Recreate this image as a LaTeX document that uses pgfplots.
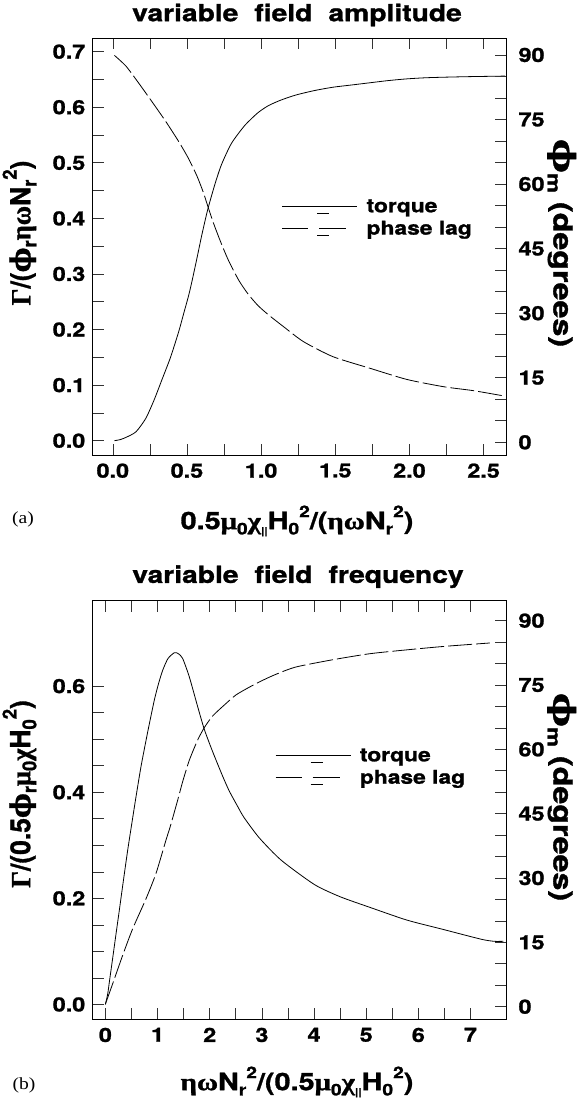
\documentclass[border=0pt]{standalone}
\usepackage{graphicx}
\usepackage{pgfplots}
\pgfplotsset{compat=1.18}
\usepackage{fontspec}
\setmainfont[FakeStretch=1.2, BoldFeatures={FakeBold=1.2}]{TeX Gyre Heros}
\newfontfamily\hr[BoldFeatures={FakeBold=1.2}]{TeX Gyre Heros}
\newfontfamily\gr[FakeStretch=1.2, BoldFeatures={FakeBold=1.2}]{Liberation Serif}
\newfontfamily\grr[BoldFeatures={FakeBold=1.2}]{Liberation Serif}
\newfontfamily\phir[BoldFeatures={FakeBold=1}]{DejaVu Serif}
\newfontfamily\capf[FakeStretch=1.15]{Liberation Serif}
\newcommand{\tkf}{\bfseries\fontsize{19.5}{19.5}\selectfont}
\newcommand{\lgf}{\bfseries\fontsize{19}{19}\selectfont}
\newcommand{\lbf}{\bfseries\fontsize{23}{23}\selectfont}
\newcommand{\sbx}[1]{\raisebox{-0.22em}{\fontsize{16}{16}\selectfont #1}}
\newcommand{\spx}[1]{\raisebox{0.5em}{\fontsize{16}{16}\selectfont #1}}
\pgfplotsset{
  base/.style={scale only axis, width=413.5pt,
    tick align=inside, major tick length=11pt, minor tick length=11pt,
    every tick/.style={black!80, line width=0.6pt},
    axis line style={line width=0.8pt},
    tick label style={font=\tkf},
    /pgf/number format/assume math mode=true},
  leg/.style={legend style={draw=none, fill=none, font=\lgf, inner sep=0pt,
    row sep=3pt, nodes={inner sep=2pt},
    /tikz/every odd column/.append style={column sep=7pt}}, legend cell align=left},
}
\newcommand{\torqueimg}{\addlegendimage{legend image code/.code={%
  \draw[black,solid,line width=0.7pt] (0pt,0pt)--(75pt,0pt);
  \draw[black,solid,line width=0.7pt] (35pt,-6.5pt)--(47pt,-6.5pt);}}}
\newcommand{\phaseimg}{\addlegendimage{legend image code/.code={%
  \draw[black,solid,line width=0.7pt] (0pt,0pt)--(26pt,0pt);
  \draw[black,solid,line width=0.7pt] (37pt,0pt)--(64pt,0pt);
  \draw[black,solid,line width=0.7pt] (35pt,-6.5pt)--(47pt,-6.5pt);}}}

\pgfplotstableread{
x y
0.011 0.000
0.050 0.002
0.089 0.006
0.156 0.016
0.222 0.040
0.278 0.073
0.333 0.111
0.389 0.150
0.444 0.196
0.478 0.229
0.511 0.261
0.533 0.286
0.567 0.328
0.600 0.370
0.640 0.416
0.689 0.462
0.733 0.497
0.800 0.535
0.889 0.567
0.978 0.590
1.050 0.603
1.135 0.613
1.235 0.622
1.360 0.630
1.485 0.636
1.610 0.640
1.734 0.644
1.860 0.648
1.983 0.651
2.110 0.653
2.233 0.654
2.400 0.655
2.645 0.656
}\torqueA
\pgfplotstableread{
x y
0.011 89.9
0.089 87.4
0.178 83.3
0.267 79.0
0.356 74.6
0.444 69.9
0.511 65.9
0.567 61.9
0.611 58.0
0.640 54.9
0.678 51.0
0.722 47.0
0.778 42.4
0.850 37.6
0.911 34.5
0.978 31.8
1.050 29.6
1.150 26.9
1.285 23.4
1.484 19.9
1.734 17.2
1.983 14.6
2.233 12.9
2.431 12.0
2.632 10.8
}\phaseA
\pgfplotstableread{
x y
0.000 0.000
0.045 0.020
0.077 0.043
0.141 0.088
0.204 0.133
0.268 0.178
0.332 0.224
0.428 0.291
0.524 0.352
0.588 0.392
0.684 0.449
0.812 0.514
0.939 0.574
1.020 0.605
1.099 0.630
1.200 0.652
1.323 0.663
1.400 0.661
1.482 0.652
1.610 0.617
1.770 0.561
1.898 0.518
2.058 0.476
2.249 0.430
2.376 0.402
2.537 0.373
2.660 0.352
2.950 0.314
3.369 0.272
4.007 0.226
4.500 0.203
5.070 0.183
5.780 0.159
6.490 0.141
7.200 0.123
7.450 0.119
7.630 0.119
}\torqueB
\pgfplotstableread{
x y
0.000 0.6
0.141 5.4
0.332 12.0
0.524 18.2
0.780 25.2
0.971 31.1
1.163 38.9
1.241 41.9
1.387 48.2
1.482 52.5
1.610 57.5
1.770 62.2
1.898 65.1
2.058 67.8
2.313 70.7
2.505 72.7
2.760 74.5
3.016 76.1
3.270 77.5
3.652 79.2
4.362 80.9
5.070 82.3
5.780 83.2
6.490 84.0
7.370 84.8
}\phaseB

\begin{document}
\begin{tikzpicture}
\path[use as bounding box] (0pt,0pt) rectangle (580pt,1103pt);

% ---------- panel (a) ----------
\begin{axis}[base, at={(92.5pt,648pt)}, anchor=south west, height=416.7pt,
  xmin=-0.137, xmax=2.651, ymin=-0.0257, ymax=0.724,
  xtick={0,0.5,1,1.5,2,2.5}, minor x tick num=1, xtick pos=both,
  ytick={0,0.1,0.2,0.3,0.4,0.5,0.6,0.7}, minor y tick num=1, ytick pos=left,
  xticklabel style={yshift=-5pt, /pgf/number format/.cd, fixed, fixed zerofill, precision=1},
  yticklabel style={xshift=-3.7pt, /pgf/number format/.cd, fixed, fixed zerofill, precision=1}]
\addplot[black, line width=0.8pt, smooth, tension=0.4] table {\torqueA};
\end{axis}
\begin{axis}[base, leg, at={(92.5pt,648pt)}, anchor=south west, height=416.7pt,
  xmin=-0.137, xmax=2.651, ymin=-2.95, ymax=93.88,
  axis x line=none, axis y line*=right, tick align=inside,
  ytick={0,15,30,45,60,75,90}, minor y tick num=2,
  yticklabel style={xshift=9pt},
  legend style={at={(axis description cs:0.4576,0.6185)}, anchor=north west}]
\torqueimg
\addlegendentry{torque}
\addplot[black, line width=0.8pt, smooth, tension=0.4, dash pattern=on 24pt off 4pt, forget plot] table {\phaseA};
\phaseimg
\addlegendentry{phase lag}
\end{axis}

% ---------- panel (b) ----------
\begin{axis}[base, at={(92.5pt,83.7pt)}, anchor=south west, height=418.6pt,
  xmin=-0.247, xmax=7.68, ymin=-0.028, ymax=0.761,
  xtick={0,1,2,3,4,5,6,7}, minor x tick num=1, xtick pos=both,
  ytick={0,0.2,0.4,0.6}, minor y tick num=3, ytick pos=left,
  xticklabel style={yshift=-5pt},
  yticklabel style={xshift=-3.7pt, /pgf/number format/.cd, fixed, fixed zerofill, precision=1}]
\addplot[black, line width=0.8pt, smooth, tension=0.4] table {\torqueB};
\end{axis}
\begin{axis}[base, leg, at={(92.5pt,83.7pt)}, anchor=south west, height=418.6pt,
  xmin=-0.247, xmax=7.68, ymin=-2.94, ymax=94.66,
  axis x line=none, axis y line*=right, tick align=inside,
  ytick={0,15,30,45,60,75,90}, minor y tick num=2,
  yticklabel style={xshift=9pt},
  legend style={at={(axis description cs:0.4414,0.652)}, anchor=north west}]
\torqueimg
\addlegendentry{torque}
\addplot[black, line width=0.8pt, smooth, tension=0.4, dash pattern=on 24pt off 4pt, forget plot] table {\phaseB};
\phaseimg
\addlegendentry{phase lag}
\end{axis}

% ---------- titles and labels ----------
\node[font=\bfseries\fontsize{23.5}{23.5}\selectfont] at (297pt,1088pt) {variable\hspace{0.35em} field\hspace{0.35em} amplitude};
\node[font=\bfseries\fontsize{23.5}{23.5}\selectfont] at (298pt,526.3pt) {variable\hspace{0.35em} field\hspace{0.35em} frequency};

\node[font=\bfseries\fontsize{24}{24}\selectfont] at (297pt,582pt) {0.5{\gr μ}\sbx{0}{\gr χ}\sbx{\fontsize{10}{10}\selectfont ||}H\sbx{0}\spx{2}/({\gr ηω}N\sbx{r}\spx{2})};
\node[font=\bfseries\fontsize{24}{24}\selectfont] at (297pt,21pt) {{\gr ηω}N\sbx{r}\spx{2}/(0.5{\gr μ}\sbx{0}{\gr χ}\sbx{\fontsize{10}{10}\selectfont ||}H\sbx{0}\spx{2})};

\node[font=\capf\fontsize{17}{17}\selectfont] at (23pt,584pt) {(a)};
\node[font=\capf\fontsize{17}{17}\selectfont] at (24pt,18pt) {(b)};

\node[rotate=90, font=\lbf\hr] at (19.5pt,870pt) {\scalebox{1.15}[1.2]{{\grr Γ}/({\phir ϕ}\sbx{r}{\grr ηω}N\sbx{r}\spx{2})}};
\node[rotate=90, font=\lbf\hr] at (19.5pt,309pt) {\scalebox{1.15}[1.2]{{\grr Γ}/(0.5{\phir ϕ}\sbx{r}{\grr μ}\sbx{0}{\grr χ}H\sbx{0}\spx{2})}};

\node[rotate=-90, font=\lbf\hr] at (561.7pt,860pt) {\scalebox{1.4}[1.15]{{\phir\fontsize{26}{26}\selectfont ϕ}\sbx{m}\ (degrees)}};
\node[rotate=-90, font=\lbf\hr] at (561.7pt,306pt) {\scalebox{1.4}[1.15]{{\phir\fontsize{26}{26}\selectfont ϕ}\sbx{m}\ (degrees)}};
\end{tikzpicture}
\end{document}
